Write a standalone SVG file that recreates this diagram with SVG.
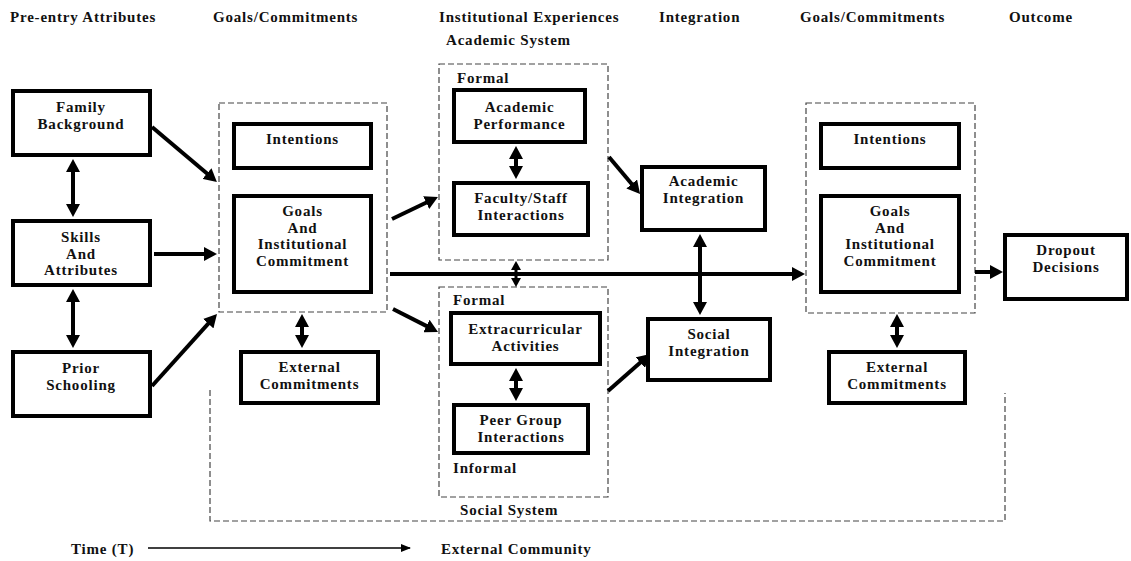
<svg xmlns="http://www.w3.org/2000/svg" width="1131" height="561" viewBox="0 0 1131 561">
<style>
text{font-family:"Liberation Serif","Times New Roman",serif;font-weight:bold;font-size:15px;fill:#111;letter-spacing:0.8px}
.c{text-anchor:middle}
.box{fill:#fff;stroke:#000;stroke-width:4}
.dash{fill:none;stroke:#444;stroke-width:1.2;stroke-dasharray:6,3}
.ar{stroke:#000;stroke-width:4;fill:none;marker-end:url(#ah)}
.dar{stroke:#000;stroke-width:4;fill:none;marker-end:url(#ah);marker-start:url(#ah)}
</style>
<defs>
<marker id="ah" viewBox="0 0 13 14" refX="2" refY="7" markerWidth="13" markerHeight="14" markerUnits="userSpaceOnUse" orient="auto-start-reverse"><path d="M0,0 L13,7 L0,14 z" fill="#000"/></marker>
<marker id="ahs" viewBox="0 0 9 10" refX="2" refY="5" markerWidth="9" markerHeight="10" markerUnits="userSpaceOnUse" orient="auto-start-reverse"><path d="M0,0 L9,5 L0,10 z" fill="#000"/></marker>
<marker id="aht" viewBox="0 0 10 8" refX="9" refY="4" markerWidth="10" markerHeight="8" markerUnits="userSpaceOnUse" orient="auto"><path d="M0,0 L10,4 L0,8 z" fill="#000"/></marker>
</defs>
<rect width="1131" height="561" fill="#fff"/>
<g id="headers">
<text x="10" y="22">Pre-entry Attributes</text>
<text x="213" y="22">Goals/Commitments</text>
<text x="439" y="22">Institutional Experiences</text>
<text x="659" y="22">Integration</text>
<text x="800" y="22">Goals/Commitments</text>
<text x="1009" y="22">Outcome</text>
<text x="446" y="45">Academic System</text>
</g>
<g id="groups">
<rect class="dash" x="219" y="103" width="168" height="209"/>
<rect class="dash" x="439" y="64" width="169" height="196"/>
<rect class="dash" x="439" y="287" width="169" height="210"/>
<rect class="dash" x="806" y="103" width="169" height="210"/>
<path class="dash" d="M210,390 V521 H1005 V393"/>
<text x="457" y="83">Formal</text>
<text x="453" y="305">Formal</text>
<text x="453" y="473">Informal</text>
<text x="460" y="515">Social System</text>
</g>
<g id="connectors">
<line class="dar" x1="73" y1="170" x2="73" y2="206"/>
<line class="dar" x1="73" y1="300" x2="73" y2="337"/>
<line class="ar" x1="152" y1="127" x2="208.5" y2="174.8"/>
<line class="ar" x1="154" y1="254" x2="206" y2="254"/>
<line class="ar" x1="152" y1="386" x2="209.6" y2="322.2"/>
<line class="dar" x1="302" y1="325" x2="302" y2="337"/>
<line class="ar" x1="392" y1="219" x2="428" y2="201.8"/>
<line class="ar" x1="393" y1="309" x2="428.2" y2="326.9"/>
<line class="ar" x1="390" y1="274" x2="794" y2="274"/>
<line x1="516" y1="268" x2="516" y2="280" stroke="#000" stroke-width="3" marker-start="url(#ahs)" marker-end="url(#ahs)"/>
<line class="dar" x1="516" y1="157" x2="516" y2="168"/>
<line class="dar" x1="516" y1="379" x2="516" y2="390"/>
<line class="ar" x1="609" y1="157" x2="633" y2="185.5"/>
<line class="ar" x1="608" y1="391" x2="641.8" y2="361.3"/>
<line class="dar" x1="700" y1="245" x2="700" y2="304"/>
<line class="dar" x1="897" y1="325" x2="897" y2="337"/>
<line class="ar" x1="975" y1="272" x2="992" y2="272"/>
<line x1="148" y1="548" x2="410" y2="548" stroke="#000" stroke-width="1.3" marker-end="url(#aht)"/>
</g>
<g id="family"><rect class="box" x="13" y="91" width="137" height="64"/><text class="c" x="81" y="112">Family</text><text class="c" x="81" y="129">Background</text></g>
<g id="skills"><rect class="box" x="13" y="221" width="137" height="64"/><text class="c" x="81" y="242">Skills</text><text class="c" x="81" y="259">And</text><text class="c" x="81" y="275">Attributes</text></g>
<g id="prior"><rect class="box" x="13" y="352" width="137" height="64"/><text class="c" x="81" y="373">Prior</text><text class="c" x="81" y="390">Schooling</text></g>
<g id="intentions1"><rect class="box" x="234" y="124" width="137" height="44"/><text class="c" x="302.5" y="144">Intentions</text></g>
<g id="goals1"><rect class="box" x="234" y="196" width="137" height="96"/><text class="c" x="302.5" y="216">Goals</text><text class="c" x="302.5" y="233">And</text><text class="c" x="302.5" y="249">Institutional</text><text class="c" x="302.5" y="266">Commitment</text></g>
<g id="external1"><rect class="box" x="241" y="352" width="137" height="51"/><text class="c" x="309.5" y="372">External</text><text class="c" x="309.5" y="389">Commitments</text></g>
<g id="acadperf"><rect class="box" x="454" y="90" width="131" height="52"/><text class="c" x="519.5" y="112">Academic</text><text class="c" x="519.5" y="129">Performance</text></g>
<g id="faculty"><rect class="box" x="454" y="183" width="134" height="52"/><text class="c" x="521" y="203">Faculty/Staff</text><text class="c" x="521" y="220">Interactions</text></g>
<g id="extracurricular"><rect class="box" x="451" y="313" width="149" height="51"/><text class="c" x="525.5" y="334">Extracurricular</text><text class="c" x="525.5" y="351">Activities</text></g>
<g id="peer"><rect class="box" x="454" y="405" width="134" height="48"/><text class="c" x="521" y="425">Peer Group</text><text class="c" x="521" y="442">Interactions</text></g>
<g id="acadint"><rect class="box" x="642" y="167" width="123" height="63" stroke-width="3.5"/><text class="c" x="703.5" y="186">Academic</text><text class="c" x="703.5" y="203">Integration</text></g>
<g id="socint"><rect class="box" x="648" y="319" width="122" height="61" stroke-width="3.5"/><text class="c" x="709" y="339">Social</text><text class="c" x="709" y="356">Integration</text></g>
<g id="intentions2"><rect class="box" x="821" y="124" width="138" height="44"/><text class="c" x="890" y="144">Intentions</text></g>
<g id="goals2"><rect class="box" x="821" y="196" width="138" height="96"/><text class="c" x="890" y="216">Goals</text><text class="c" x="890" y="233">And</text><text class="c" x="890" y="249">Institutional</text><text class="c" x="890" y="266">Commitment</text></g>
<g id="external2"><rect class="box" x="829" y="352" width="136" height="51"/><text class="c" x="897" y="372">External</text><text class="c" x="897" y="389">Commitments</text></g>
<g id="dropout"><rect class="box" x="1005" y="235" width="122" height="64"/><text class="c" x="1066" y="255">Dropout</text><text class="c" x="1066" y="272">Decisions</text></g>
<g id="footer">
<text x="71" y="554">Time (T)</text>
<text x="441" y="554">External Community</text>
</g>
</svg>
